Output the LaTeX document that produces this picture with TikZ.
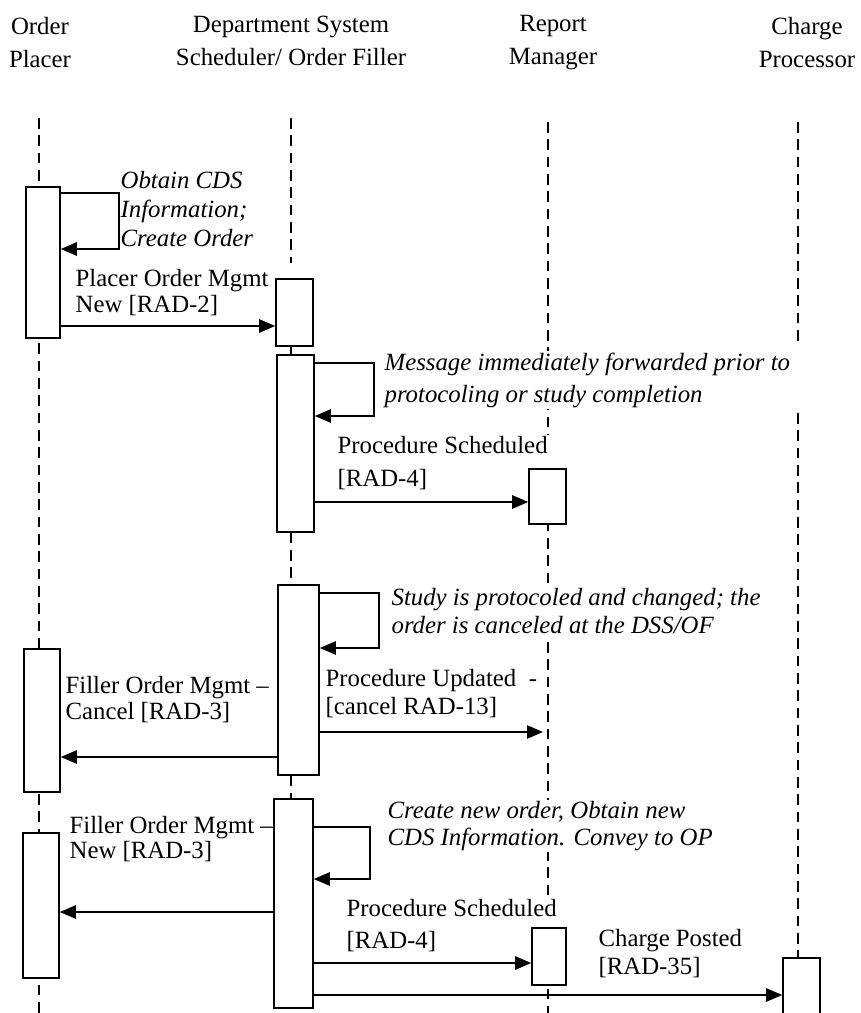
\documentclass[tikz,border=0pt]{standalone}
\usepackage{fontspec}
\setmainfont{Liberation Serif}
\usetikzlibrary{arrows.meta,fit}
\begin{document}
\begin{tikzpicture}[x=0.75pt,y=-0.75pt,
  hdr/.style={align=center, inner sep=0pt, font=\fontsize{18.6pt}{24.75pt}\selectfont},
  lbl/.style={anchor=west, align=left, inner sep=1pt, fill=white, font=\fontsize{18.6pt}{#1}\selectfont},
  note/.style={anchor=west, align=left, inner sep=1pt, fill=white, font=\fontsize{18.6pt}{#1}\selectfont\itshape},
  act/.style={draw, fill=white, line width=1.2pt, inner sep=0pt},
  life/.style={line width=1.1pt, dash pattern=on 8pt off 5pt},
  msg/.style={line width=1.2pt, -{Triangle[length=12pt,width=10pt]}},
  link/.style={line width=1.2pt},
]
\useasboundingbox (0,0) rectangle (860,1013);
\clip (0,0) rectangle (860,1013);

% headers
\node[hdr] (hOP) at (40,43) {Order\\Placer};
\node[hdr] (hDSS) at (291,41) {Department System\\Scheduler/ Order Filler};
\node[hdr] (hRM) at (553,43) {Report\\Manager};
\node[hdr] (hCP) at (807,43) {Charge\\Processor};

% lifeline end points
\coordinate (opTop) at (39,118);
\coordinate (opBot) at (39,1013);
\coordinate (dsTop) at (291,118);
\coordinate (dsEnd) at (291,263);
\coordinate (rmTop) at (548,122);
\coordinate (rmBot) at (548,1013);
\coordinate (cpTop) at (798,122);
\coordinate (cpA) at (798,347);
\coordinate (cpB) at (798,413);
\coordinate (cpBot) at (798,958);

\draw[life] (opTop) -- (opBot);
\draw[life] (dsTop) -- (dsEnd);
\draw[life] (rmTop) -- (rmBot);
\draw[life] (cpTop) -- (cpA);
\draw[life] (cpB) -- (cpBot);

% labels (white background hides lifelines behind them)
\node[note=21.75pt] (T1) at (119,209) {Obtain CDS\\Information;\\Create Order};
\node[lbl=19.5pt] (T2) at (74,293) {Placer Order Mgmt\\New [RAD-2]};
\node[note=24pt] (T3) at (383,380) {Message immediately forwarded prior to\\protocoling or study completion};
\node[lbl=24.75pt] (T4) at (336,463) {Procedure Scheduled\\{}[RAD-4]};
\node[note=21pt] (T5) at (390,611) {Study is protocoled and changed; the\\order is canceled at the DSS/OF};
\node[lbl=21pt] (T6) at (324,694) {Procedure Updated~ -\\{}[cancel RAD-13]};
\node[lbl=19.5pt] (T7) at (64,700) {Filler Order Mgmt --\\Cancel [RAD-3]};
\node[note=20.25pt] (T8) at (386,826) {Create new order, Obtain new\\CDS Information. Convey to OP};
\node[lbl=19pt] (T9) at (68,839) {Filler Order Mgmt --\\New [RAD-3]};
\node[lbl=24pt] (T10) at (345,926) {Procedure Scheduled\\{}[RAD-4]};
\node[lbl=21pt] (T11) at (597,954) {Charge Posted\\{}[RAD-35]};

% activation boxes
\node[act, fit={(26,187) (60,338)}] (A1) {};
\node[act, fit={(24,649) (60,792)}] (A2) {};
\node[act, fit={(23,833) (59,978)}] (A3) {};
\node[act, fit={(276,279) (313,346)}] (B1) {};
\node[act, fit={(277,355) (314,532)}] (B2) {};
\node[act, fit={(278,585) (319,775)}] (B3) {};
\node[act, fit={(274,799) (313,1008)}] (B4) {};
\node[act, fit={(529,469) (566,524)}] (R1) {};
\node[act, fit={(532,928) (566,985)}] (R2) {};
\node[act, fit={(783,958) (820,1040)}] (C1) {};

% DSS lifeline pieces between boxes
\draw[link] (dsTop |- B1.south) -- (dsTop |- B2.north);
\draw[life] (dsTop |- B2.south) -- (dsTop |- B3.north);
\draw[life] (dsTop |- B3.south) -- (dsTop |- B4.north);

% self messages
\coordinate (s1a) at (119,193); \coordinate (s1b) at (119,249);
\draw[msg] (A1.east |- s1a) -- (s1a) -- (s1b) -- (A1.east |- s1b);
\coordinate (s2a) at (374,363); \coordinate (s2b) at (374,416);
\draw[msg] (B2.east |- s2a) -- (s2a) -- (s2b) -- (B2.east |- s2b);
\coordinate (s3a) at (379,593); \coordinate (s3b) at (379,648);
\draw[msg] (B3.east |- s3a) -- (s3a) -- (s3b) -- (B3.east |- s3b);
\coordinate (s4a) at (370,827); \coordinate (s4b) at (370,879);
\draw[msg] (B4.east |- s4a) -- (s4a) -- (s4b) -- (B4.east |- s4b);

% messages
\draw[msg] (A1.east |- 0,326) -- (B1.west |- 0,326);
\draw[msg] (B2.east |- 0,502) -- (R1.west |- 0,502);
\coordinate (rmHit) at (543,732);
\draw[msg] (B3.east |- rmHit) -- (rmHit);
\draw[msg] (B3.west |- 0,757) -- (A2.east |- 0,757);
\draw[msg] (B4.west |- 0,912) -- (A3.east |- 0,912);
\draw[msg] (B4.east |- 0,963) -- (R2.west |- 0,963);
\draw[msg] (B4.east |- 0,995) -- (C1.west |- 0,995);
\end{tikzpicture}
\end{document}
